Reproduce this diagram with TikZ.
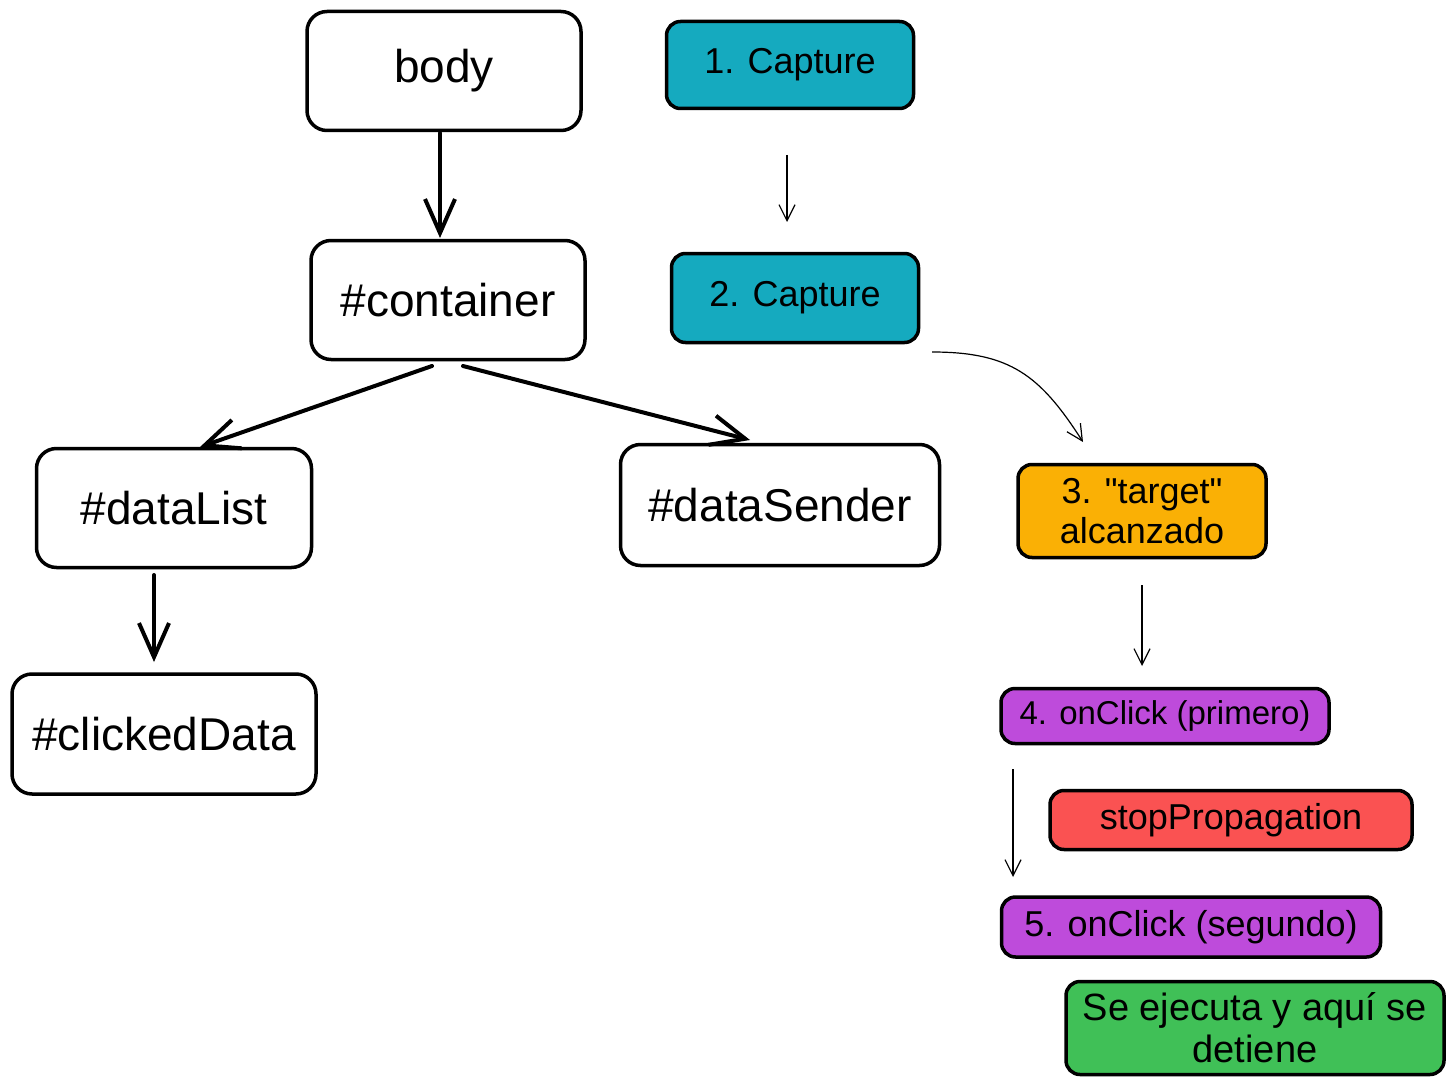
\documentclass[tikz,border=0pt]{standalone}
\usepackage{fontspec}
\setmainfont{Liberation Sans}[Ligatures=TeXOff]
\usetikzlibrary{arrows.meta}
\definecolor{cteal}{HTML}{15AABF}
\definecolor{corange}{HTML}{FAB005}
\definecolor{cpurple}{HTML}{BE4BDB}
\definecolor{cred}{HTML}{FA5252}
\definecolor{cgreen}{HTML}{40C057}
\begin{document}
\begin{tikzpicture}[x=1pt,y=-1pt,
  box/.style={draw=black,line width=3.5pt,rounded corners=20pt,inner sep=0pt,align=center},
  mainbox/.style={box,fill=white,font=\fontsize{46}{52}\selectfont},
  cbox/.style={box,rounded corners=14pt,font=\fontsize{36}{40}\selectfont},
  thick arrow/.style={line width=4pt,line cap=round,-{Straight Barb[length=34pt,width=30pt,line width=4pt]}},
  thin arrow/.style={line width=1.2pt,-{Straight Barb[length=16pt,width=16pt,line width=1.2pt]}}]
\useasboundingbox (0,0) rectangle (1456,1086);
\node[mainbox,minimum width=274pt,minimum height=119pt] (body) at (444,71) {body};
\node[mainbox,minimum width=274pt,minimum height=119pt] (container) at (448,300) {\#container};
\node[mainbox,minimum width=275pt,minimum height=119pt] (datalist) at (174,508) {\#dataList};
\node[mainbox,minimum width=319pt,minimum height=121pt] (datasender) at (780,505) {\#dataSender};
\node[mainbox,minimum width=304pt,minimum height=120pt] (clicked) at (164,734) {\#clickedData};
\node[cbox,fill=cteal,minimum width=247pt,minimum height=87pt] (cap1) at (790,65) {1. Capture};
\node[cbox,fill=cteal,minimum width=247pt,minimum height=89pt] (cap2) at (795,298) {2. Capture};
\node[cbox,fill=corange,minimum width=248pt,minimum height=93pt] (target) at (1142,511) {3. "target"\\alcanzado};
\node[cbox,fill=cpurple,minimum width=328pt,minimum height=55pt,font=\fontsize{33}{38}\selectfont] (click1) at (1165,716) {4. onClick (primero)};
\node[cbox,fill=cred,minimum width=362pt,minimum height=59pt] (stop) at (1231,820) {stopPropagation};
\node[cbox,fill=cpurple,minimum width=379pt,minimum height=60pt] (click2) at (1191,927) {5. onClick (segundo)};
\node[cbox,fill=cgreen,minimum width=378pt,minimum height=93pt,font=\fontsize{38}{42}\selectfont] (green) at (1255,1028) {Se ejecuta y aquí se\\detiene};
% structure arrows
\coordinate (b1) at (440,133); \coordinate (b2) at (440,238);
\draw[thick arrow] (b1) -- (b2);
\coordinate (c1) at (432,366); \coordinate (c2) at (200,447);
\draw[thick arrow] (c1) -- (c2);
\coordinate (c3) at (463,366); \coordinate (c4) at (750,440);
\draw[thick arrow] (c3) -- (c4);
\coordinate (d1) at (154,575); \coordinate (d2) at (154,662);
\draw[thick arrow] (d1) -- (d2);
% flow arrows
\coordinate (a1s) at (787,155); \coordinate (a1e) at (787,222);
\draw[thin arrow] (a1s) -- (a1e);
\coordinate (a2s) at (932,352); \coordinate (a2e) at (1083,442);
\draw[thin arrow] (a2s) .. controls (1010,352) and (1040,375) .. (a2e);
\coordinate (a3s) at (1142,585); \coordinate (a3e) at (1142,666);
\draw[thin arrow] (a3s) -- (a3e);
\coordinate (a4s) at (1013,769); \coordinate (a4e) at (1013,877);
\draw[thin arrow] (a4s) -- (a4e);
\end{tikzpicture}
\end{document}
